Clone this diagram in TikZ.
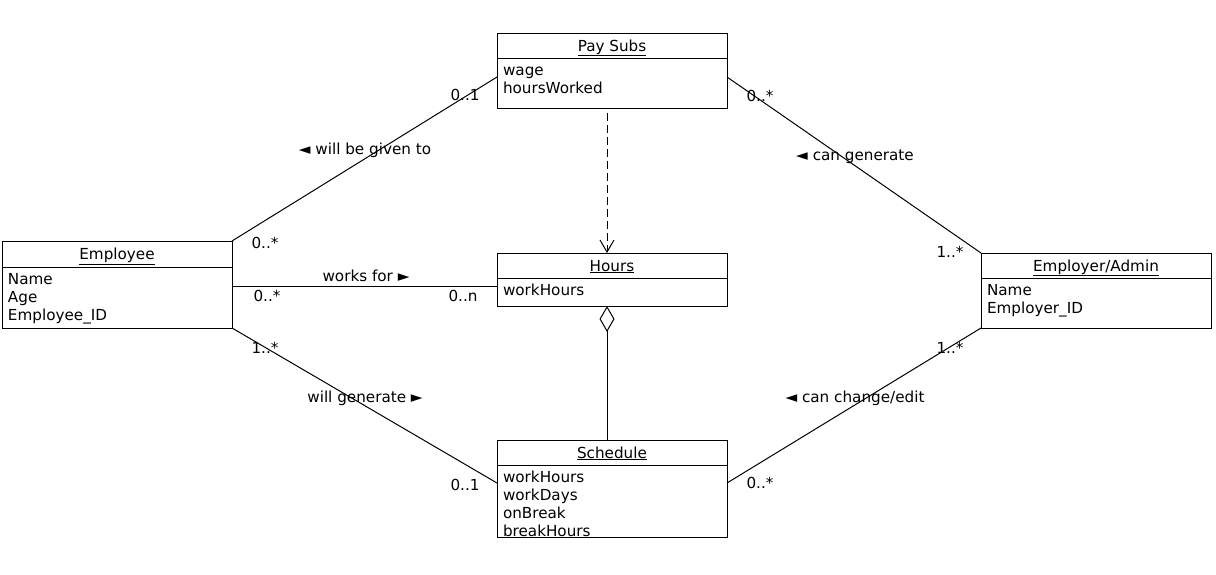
\documentclass[tikz,border=0pt]{standalone}
\usepackage{fontspec}
\setmainfont{DejaVu Sans}
\usetikzlibrary{positioning,calc,arrows.meta}

\tikzset{
  uml_font/.style={font=\fontsize{15.2pt}{18pt}\selectfont},
  class_title/.style={draw, uml_font, line width=1pt, anchor=north west,
    minimum width=230pt, minimum height=25pt, inner sep=0pt, outer sep=0pt,
    text height=11pt, text depth=0pt},
  class_attr/.style={draw, uml_font, line width=1pt, text width=218pt,
    inner xsep=6pt, inner ysep=5pt, outer sep=0pt, align=left,
    text height=12pt, text depth=#1},
  assoc/.style={line width=1pt},
  mult/.style={uml_font, anchor=base, inner sep=0pt},
}

\begin{document}
\begin{tikzpicture}[x=1pt,y=-1pt]

\useasboundingbox (0,0) rectangle (1216,574) ;

% classes
\node[class_title] (pay_subs) at (497,33) {\underline{Pay Subs}} ;
\node[class_attr=28pt, below=0pt of pay_subs] (pay_subs_attr) {wage\\hoursWorked} ;

\node[class_title, minimum height=26pt] (employee) at (2,241) {\underline{Employee}} ;
\node[class_attr=39pt, below=0pt of employee] (employee_attr) {Name\\Age\\Employee\_ID} ;

\node[class_title] (hours) at (497,253) {\underline{Hours}} ;
\node[class_attr=6pt, below=0pt of hours] (hours_attr) {workHours} ;

\node[class_title] (schedule) at (497,440) {\underline{Schedule}} ;
\node[class_attr=50pt, below=0pt of schedule] (schedule_attr) {workHours\\workDays\\onBreak\\breakHours} ;

\node[class_title] (employer) at (981,253) {\underline{Employer/Admin}} ;
\node[class_attr=28pt, below=0pt of employer] (employer_attr) {Name\\Employer\_ID} ;

% end points on the sides
\coordinate (pay_left) at ($(pay_subs_attr.north west)!0.38!(pay_subs_attr.south west)$) ;
\coordinate (pay_right) at ($(pay_subs_attr.north east)!0.38!(pay_subs_attr.south east)$) ;
\coordinate (hours_left) at ($(hours_attr.north west)!0.3!(hours_attr.south west)$) ;
\coordinate (sched_left) at ($(schedule_attr.north west)!0.25!(schedule_attr.south west)$) ;
\coordinate (sched_right) at ($(schedule_attr.north east)!0.25!(schedule_attr.south east)$) ;

% associations
\draw[assoc] (employee.north east) -- (pay_left) ;
\draw[assoc] (pay_right) -- (employer.north west) ;
\draw[assoc] (employee_attr.east |- hours_left) -- (hours_left) ;
\draw[assoc] (employee_attr.south east) -- (sched_left) ;
\draw[assoc] (sched_right) -- (employer_attr.south west) ;

% dependency and aggregation
\draw[assoc, dash pattern=on 8pt off 4pt, -{Straight Barb[length=12pt,width=14pt]}]
  ($(pay_subs_attr.south)+(-5,5)$) -- ($(hours.north)+(-5,0)$) ;
\draw[assoc, {Diamond[open,length=26pt,width=15pt]}-]
  ($(hours_attr.south)+(-5,0)$) -- ($(schedule.north)+(-5,0)$) ;

% multiplicities
\node[mult] (m_emp_pay) at (265,248) {0..*} ;
\node[mult] (m_pay_emp) at (465,100) {0..1} ;
\node[mult] (m_pay_boss) at (760,101) {0..*} ;
\node[mult] (m_boss_pay) at (950,257) {1..*} ;
\node[mult] (m_emp_hours) at (267,301) {0..*} ;
\node[mult] (m_hours_emp) at (463,301) {0..n} ;
\node[mult] (m_emp_sched) at (265,353) {1..*} ;
\node[mult] (m_sched_emp) at (465,490) {0..1} ;
\node[mult] (m_boss_sched) at (950,353) {1..*} ;
\node[mult] (m_sched_boss) at (760,488) {0..*} ;

% association names
\node[mult] (given_to) at (365,154) {◄ will be given to} ;
\node[mult] (can_generate) at (855,160) {◄ can generate} ;
\node[mult] (works_for) at (366,281) {works for ►} ;
\node[mult] (will_generate) at (365,402) {will generate ►} ;
\node[mult] (can_change) at (855,402) {◄ can change/edit} ;

\end{tikzpicture}
\end{document}
